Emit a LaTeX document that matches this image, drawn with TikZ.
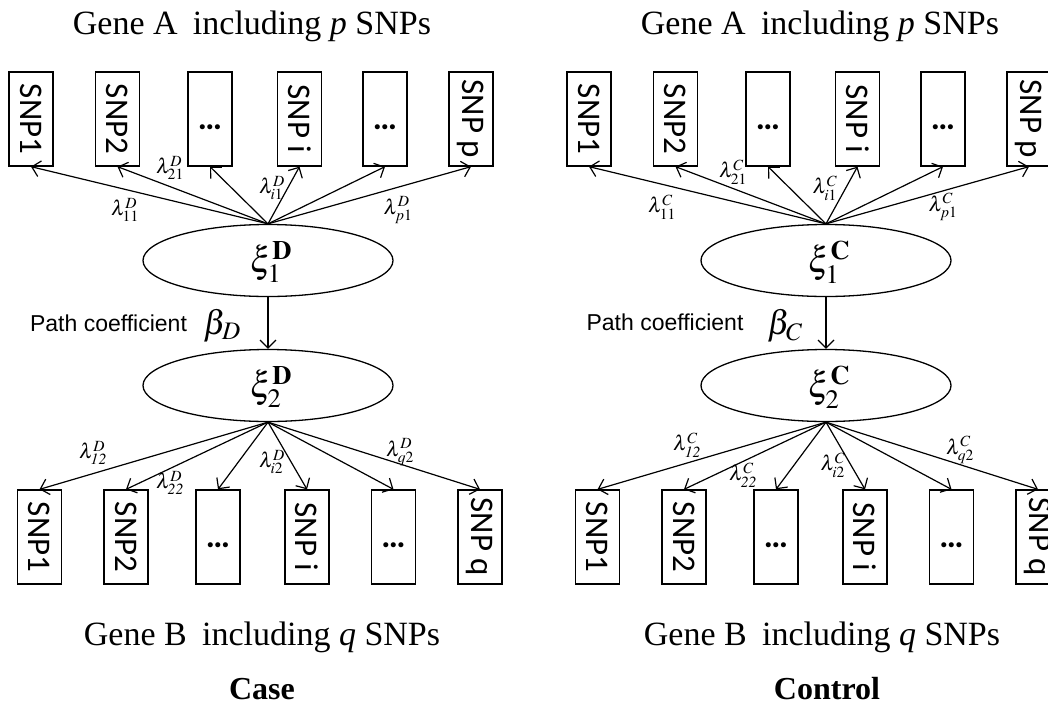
\documentclass[tikz,border=0pt]{standalone}
\usepackage{mathptmx}
\usepackage[no-math]{fontspec}
\setmainfont{Liberation Serif}
\setsansfont{Liberation Sans}
\newfontfamily\snpfont{Carlito}
\usepackage{graphicx}
\usetikzlibrary{arrows.meta,shapes.geometric,calc}

\tikzset{
  snpbox/.style={draw, line width=1.3pt, minimum width=44pt, minimum height=94pt,
    inner sep=0pt, font=\snpfont\fontsize{33}{33}\selectfont},
  latent/.style={draw, ellipse, line width=1.3pt, minimum width=250pt,
    minimum height=72pt, inner sep=0pt},
  latlab/.style={inner sep=0pt, font=\fontsize{36}{36}\selectfont},
  load/.style={line width=1.2pt, -{Straight Barb[length=8pt,width=16pt,line width=1.2pt]}},
  lab/.style={inner sep=0pt, font=\fontsize{21}{22}\selectfont},
  pathtxt/.style={inner sep=0pt, font=\sffamily\fontsize{23}{25}\selectfont},
  betalab/.style={inner sep=0pt, font=\fontsize{34}{34}\selectfont},
  title/.style={inner sep=0pt, anchor=base, font=\fontsize{34}{36}\selectfont},
  casetitle/.style={inner sep=0pt, anchor=base, font=\bfseries\fontsize{32}{34}\selectfont},
}

\newcommand{\snpdots}{\raisebox{-10pt}[0pt][0pt]{\fontsize{34}{34}\selectfont\bfseries\textellipsis}}

\newcommand{\panelbody}[1]{%
  % top SNP boxes (gene A)
  \node[snpbox] (a1) at (31,119)    {\rotatebox{-90}{SNP1}};
  \node[snpbox] (a2) at (117.5,119) {\rotatebox{-90}{SNP2}};
  \node[snpbox] (a3) at (210,119)   {\snpdots};
  \node[snpbox] (a4) at (299.5,119) {\rotatebox{-90}{SNP i}};
  \node[snpbox] (a5) at (385,119)   {\snpdots};
  \node[snpbox] (a6) at (471,119)   {\rotatebox{-90}{SNP p}};
  % latent variables
  \node[latent] (e1) at (268,260.5) {};
  \node[latlab] (x1) at (271,262) {$\xi^{\mathbf{#1}}_{1}$};
  \node[latent] (e2) at (268,385.5) {};
  \node[latlab] (x2) at (271,387) {$\xi^{\mathbf{#1}}_{2}$};
  % bottom SNP boxes (gene B)
  \node[snpbox] (b1) at (39.5,537)  {\rotatebox{-90}{SNP1}};
  \node[snpbox] (b2) at (126,537)   {\rotatebox{-90}{SNP2}};
  \node[snpbox] (b3) at (218,537)   {\snpdots};
  \node[snpbox] (b4) at (307,537)   {\rotatebox{-90}{SNP i}};
  \node[snpbox] (b5) at (393.5,537) {\snpdots};
  \node[snpbox] (b6) at (480,537)   {\rotatebox{-90}{SNP q}};
  % connectors
  \foreach \k in {1,...,6} {\draw[load] (e1.north) -- (a\k.south);}
  \draw[load] (e1.south) -- (e2.north);
  \foreach \k in {1,...,6} {\draw[load] (e2.south) -- (b\k.north);}
}

\begin{document}
\begin{tikzpicture}[x=1pt,y=-1pt]
\useasboundingbox (0,0) rectangle (1048,709);
\fill[white] (0,0) rectangle (1048,709);

% ---------- Case panel ----------
\begin{scope}[name prefix=L-]
  \panelbody{D}
  \node[lab] (l11) at (125,210) {$\lambda^{D}_{11}$};
  \node[lab] (l21) at (170,168) {$\lambda^{D}_{21}$};
  \node[lab] (li1) at (272,188) {$\lambda^{D}_{i1}$};
  \node[lab] (lp1) at (398,210) {$\lambda^{D}_{p1}$};
  \node[lab] (l12) at (93,453)  {$\lambda^{D}_{\mathit{12}}$};
  \node[lab] (l22) at (170,483) {$\lambda^{D}_{\mathit{22}}$};
  \node[lab] (li2) at (272,462) {$\lambda^{D}_{i2}$};
  \node[lab] (lq2) at (400,452) {$\lambda^{D}_{q2}$};
  \node[pathtxt] (pc) at (108.5,323) {Path coefficient};
  \node[betalab] (beta) at (222,326) {$\beta_{D}$};
\end{scope}

% ---------- Control panel ----------
\begin{scope}[xshift=558pt, name prefix=R-]
  \panelbody{C}
  \node[lab] (l11) at (104,207) {$\lambda^{C}_{11}$};
  \node[lab] (l21) at (175,172) {$\lambda^{C}_{21}$};
  \node[lab] (li1) at (267,188) {$\lambda^{C}_{i1}$};
  \node[lab] (lp1) at (385,207) {$\lambda^{C}_{p1}$};
  \node[lab] (l12) at (129,445) {$\lambda^{C}_{\mathit{12}}$};
  \node[lab] (l22) at (185,475) {$\lambda^{C}_{\mathit{22}}$};
  \node[lab] (li2) at (275,465) {$\lambda^{C}_{i2}$};
  \node[lab] (lq2) at (402,450) {$\lambda^{C}_{q2}$};
  \node[pathtxt] (pc) at (107,322) {Path coefficient};
  \node[betalab] (beta) at (227,326) {$\beta_{C}$};
\end{scope}

% ---------- titles ----------
\node[title] (tAL) at (252,35) {Gene A\hspace{0.2em} including \textit{p} SNPs};
\node[title] (tAR) at (820,35) {Gene A\hspace{0.2em} including \textit{p} SNPs};
\node[title] (tBL) at (262,645) {Gene B\hspace{0.2em} including \textit{q} SNPs};
\node[title] (tBR) at (822,645) {Gene B\hspace{0.2em} including \textit{q} SNPs};
\node[casetitle] (case) at (262,699) {Case};
\node[casetitle] (control) at (827,699) {Control};
\end{tikzpicture}
\end{document}
